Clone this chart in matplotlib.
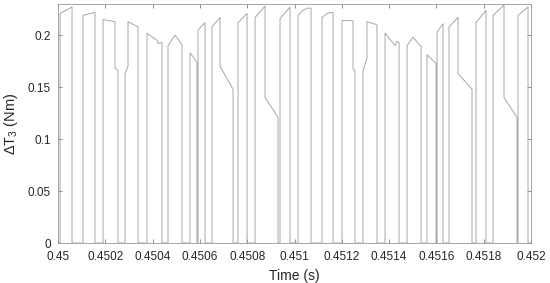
import numpy as np
import matplotlib
matplotlib.use("Agg")
import matplotlib.pyplot as plt

plt.rcParams['font.family'] = ['Liberation Sans', 'DejaVu Sans']
plt.rcParams['mathtext.fontset'] = 'custom'
plt.rcParams['mathtext.rm'] = 'Liberation Sans'
plt.rcParams['mathtext.it'] = 'Liberation Sans:italic'

# Time offset origin (s); pulse times below are in microseconds after it
T0 = 0.45
T_END_US = 2000.0

# Each pulse: rise time, points along the top (us, Nm), then falls back to 0
pulse_t_us = [
    [8.5, 59.2],
    [105.7, 156.4],
    [190.3, 241.0, 241.0, 253.7],
    [283.3, 296.0, 296.0, 338.3],
    [376.3, 418.6, 422.8, 439.7],
    [465.1, 494.7, 524.3],
    [558.1, 587.7],
    [592.0, 621.6],
    [651.2, 685.0, 685.0, 740.0],
    [761.1, 799.2],
    [833.0, 875.3, 875.3, 930.2],
    [938.7, 981.0],
    [1014.8, 1035.9, 1052.8, 1069.8],
    [1116.3, 1137.4, 1162.8],
    [1200.8, 1247.3, 1247.3, 1255.8],
    [1289.6, 1306.5, 1306.5, 1348.8],
    [1382.7, 1425.0, 1433.4, 1441.9],
    [1475.7, 1501.0, 1534.9],
    [1560.2, 1598.3],
    [1602.5, 1627.9],
    [1653.2, 1691.3, 1691.3, 1750.5],
    [1767.4, 1809.7],
    [1839.3, 1885.8, 1885.8, 1940.8],
    [1945.0, 1987.3],
]
pulse_val = [
    [0.221, 0.227],
    [0.219, 0.222],
    [0.215, 0.213, 0.168, 0.166],
    [0.163, 0.170, 0.213, 0.208],
    [0.202, 0.195, 0.192, 0.193],
    [0.190, 0.200, 0.191],
    [0.183, 0.174],
    [0.205, 0.212],
    [0.208, 0.217, 0.170, 0.148],
    [0.212, 0.221],
    [0.217, 0.228, 0.140, 0.121],
    [0.216, 0.227],
    [0.219, 0.224, 0.226, 0.226],
    [0.217, 0.221, 0.222],
    [0.214, 0.214, 0.168, 0.166],
    [0.166, 0.178, 0.213, 0.210],
    [0.202, 0.190, 0.194, 0.193],
    [0.190, 0.198, 0.189],
    [0.181, 0.173],
    [0.203, 0.211],
    [0.208, 0.217, 0.163, 0.148],
    [0.212, 0.224],
    [0.219, 0.229, 0.140, 0.121],
    [0.219, 0.227],
]

xticks = [0.45, 0.4502, 0.4504, 0.4506, 0.4508, 0.451, 0.4512, 0.4514, 0.4516, 0.4518, 0.452]
xtick_labels = ["0.45", "0.4502", "0.4504", "0.4506", "0.4508", "0.451",
                "0.4512", "0.4514", "0.4516", "0.4518", "0.452"]
yticks = [0, 0.05, 0.1, 0.15, 0.2]
ytick_labels = ["0", "0.05", "0.1", "0.15", "0.2"]

# build the stepped waveform
ts = [0.0]
vs = [0.0]
for tt, vv in zip(pulse_t_us, pulse_val):
    ts += [tt[0]] + tt + [tt[-1]]
    vs += [0.0] + vv + [0.0]
ts.append(T_END_US)
vs.append(0.0)
t = T0 + np.array(ts) * 1e-6
v = np.array(vs)

fig = plt.figure(figsize=(5.5, 2.83), dpi=100)
ax = fig.add_axes([0.1055, 0.1413, 0.86, 0.8446])

ax.plot(t, v, color="0.6", linewidth=0.6)

ax.set_xlim(0.45, 0.452)
ax.set_ylim(0, 0.23)
ax.set_xticks(xticks)
ax.set_xticklabels(xtick_labels)
ax.set_yticks(yticks)
ax.set_yticklabels(ytick_labels)

txt_col = "#262626"
ax.tick_params(direction="in", length=3, width=0.6, colors="0.5",
               labelcolor=txt_col, labelsize=8.5, top=True, right=True)
ax.tick_params(axis="x", pad=6)
ax.tick_params(axis="y", pad=5)
for s in ax.spines.values():
    s.set_color("0.6")
    s.set_linewidth(0.6)

ax.set_xlabel("Time (s)", fontsize=10, color=txt_col, labelpad=4)
ax.set_ylabel(r"ΔT$_{\mathrm{3}}$ (Nm)", fontsize=10.5, color=txt_col, labelpad=6)

fig.savefig("out.png", dpi=100)
